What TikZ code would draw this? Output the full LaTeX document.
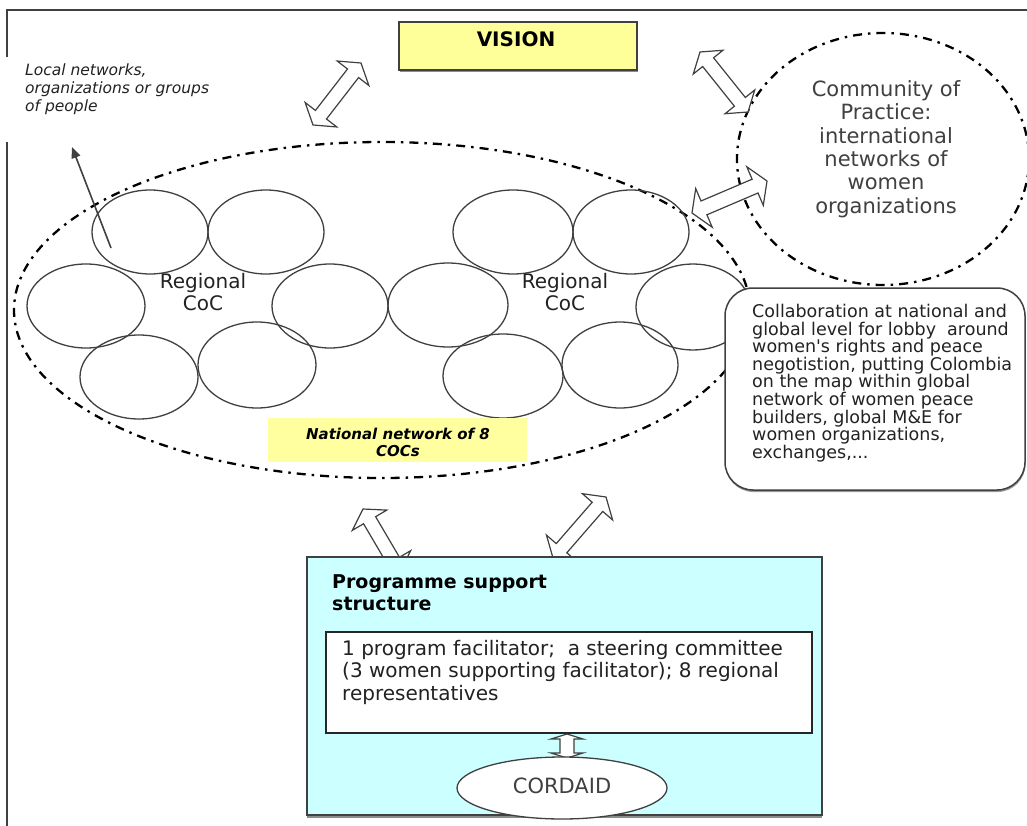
\documentclass[tikz,border=0pt]{standalone}
\usepackage{fontspec}
\setmainfont{DejaVu Sans}
\usetikzlibrary{calc,shapes.geometric,arrows.meta,shadows}
\definecolor{visfill}{HTML}{FFFF99}
\definecolor{natfill}{HTML}{FFFFA0}
\definecolor{psfill}{HTML}{CCFFFF}
\definecolor{edge}{HTML}{404040}
\definecolor{txt}{HTML}{222222}
\newcommand\dblarrow[5]{%
  \coordinate (tmpA) at ($(#1)!#5!(#2)$);
  \coordinate (tmpB) at ($(#2)!#5!(#1)$);
  \draw[blockarr] (#1) -- ($(tmpA)!#4!90:(#2)$) -- ($(tmpA)!#3!90:(#2)$)
    -- ($(tmpB)!#3!-90:(#1)$) -- ($(tmpB)!#4!-90:(#1)$) -- (#2)
    -- ($(tmpB)!#4!90:(#1)$) -- ($(tmpB)!#3!90:(#1)$)
    -- ($(tmpA)!#3!-90:(#2)$) -- ($(tmpA)!#4!-90:(#2)$) -- cycle;}
\begin{document}
\begin{tikzpicture}[x=1pt,y=-1pt,
  frameline/.style={draw=edge,line width=2pt},
  dashdot/.style={draw=black,line width=2.3pt,dash pattern=on 9pt off 6pt on 2.5pt off 6pt},
  circ/.style={ellipse,draw=edge,line width=1.3pt,inner sep=0pt},
  blockarr/.style={draw=edge,fill=white,line width=1.2pt,line join=miter},
  lbl/.style={text=txt,align=center,inner sep=0pt},
]
\useasboundingbox (0,0) rectangle (1027,826);
\fill[white] (0,0) rectangle (1027,826);
% frame
\draw[frameline] (7,826) -- (7,142);
\draw[frameline] (7,57) -- (7,10) -- (1027,10);

% big national network ellipse
\node[ellipse,dashdot,minimum width=736pt,minimum height=336pt,inner sep=0pt] (natnet) at (382,310) {};

% regional circles
\node[circ,minimum width=116pt,minimum height=84pt] (c1) at (150,232) {};
\node[circ,minimum width=116pt,minimum height=84pt] (c2) at (266,232) {};
\node[circ,minimum width=118pt,minimum height=84pt] (c3) at (86,306) {};
\node[circ,minimum width=116pt,minimum height=84pt] (c4) at (330,306) {};
\node[circ,minimum width=118pt,minimum height=84pt] (c5) at (139,377) {};
\node[circ,minimum width=118pt,minimum height=86pt] (c6) at (257,365) {};
\node[circ,minimum width=120pt,minimum height=84pt] (c7) at (448,305) {};
\node[circ,minimum width=120pt,minimum height=84pt] (c8) at (513,232) {};
\node[circ,minimum width=116pt,minimum height=84pt] (c9) at (631,232) {};
\node[circ,minimum width=114pt,minimum height=86pt] (c10) at (693,307) {};
\node[circ,minimum width=120pt,minimum height=84pt] (c11) at (503,376) {};
\node[circ,minimum width=116pt,minimum height=86pt] (c12) at (620,365) {};

\node[lbl,font=\fontsize{20}{22}\selectfont] (reg1) at (203,292) {Regional\\CoC};
\node[lbl,font=\fontsize{20}{22}\selectfont] (reg2) at (565,292) {Regional\\CoC};

% national network label
\node[fill=natfill,minimum width=259pt,minimum height=44pt,inner sep=0pt] (natbox) at (397.5,440) {};
\node[lbl,text=black,font=\fontsize{15}{17}\selectfont\bfseries\itshape] (nattext) at (398,442) {National network of 8\\COCs};

% local networks
\node[text=txt,align=left,anchor=north west,inner sep=0pt,font=\fontsize{15.5}{18}\selectfont\itshape] (local) at (25,64) {Local networks,\\organizations or groups\\of people};
\coordinate (locS) at (111,248);
\coordinate (locE) at (72,147);
\draw[draw=edge,line width=1.6pt,-{Triangle[length=11pt,width=9pt]}] (locS) -- (locE);

% community of practice
\node[ellipse,dashdot,minimum width=292pt,minimum height=252pt,inner sep=0pt] (cop) at (883,159) {};
\node[lbl,text=edge,font=\fontsize{21}{23.4}\selectfont] (coptext) at (886,149) {Community of\\Practice:\\international\\networks of\\women\\organizations};

% double arrows
\coordinate (a1s) at (313,125); \coordinate (a1e) at (361,63);
\dblarrow{a1s}{a1e}{7pt}{20pt}{13pt}
\coordinate (a2s) at (700,52); \coordinate (a2e) at (748,112);
\dblarrow{a2s}{a2e}{7pt}{19pt}{13pt}
\coordinate (a3s) at (692,213); \coordinate (a3e) at (767,181);
\dblarrow{a3s}{a3e}{7.5pt}{21pt}{13pt}
\coordinate (a4s) at (363,509); \coordinate (a4e) at (400,572);
\dblarrow{a4s}{a4e}{7pt}{20pt}{13pt}
\coordinate (a5s) at (553,558); \coordinate (a5e) at (606,497);
\dblarrow{a5s}{a5e}{7pt}{20pt}{13pt}

% callout
\node[draw=edge,fill=white,line width=1.5pt,rounded corners=28pt,minimum width=300pt,minimum height=202pt,inner sep=0pt,
  drop shadow={shadow xshift=0.5pt,shadow yshift=-2pt,fill=gray!80,opacity=1}] (callout) at (875,389) {};
\node[text=txt,align=left,anchor=north west,inner sep=0pt,font=\fontsize{17.5}{17.6}\selectfont] (calltext) at (752,304)
 {Collaboration at national and\\global level for lobby\ \ around\\women\textquotesingle s rights and peace\\negotistion, putting Colombia\\on the map within global\\network of women peace\\builders, global M\&E for\\women organizations,\\exchanges,...};

% vision
\node[fill=visfill,draw=edge,line width=1.3pt,minimum width=238pt,minimum height=48pt,inner sep=0pt,
  drop shadow={shadow xshift=0.5pt,shadow yshift=-2.5pt,fill=gray!90,opacity=1}] (vision) at (518,46) {};
\node[lbl,text=black,font=\fontsize{20}{22}\selectfont\bfseries] (vistext) at (516,39) {VISION};

% programme support structure
\node[fill=psfill,draw=edge,line width=1.3pt,minimum width=515pt,minimum height=258pt,inner sep=0pt,
  drop shadow={shadow xshift=0pt,shadow yshift=-2.5pt,fill=gray!90,opacity=1}] (support) at (564.5,686) {};
\node[text=black,align=left,anchor=north west,inner sep=0pt,font=\fontsize{19}{22}\selectfont\bfseries] (suptitle) at (332,574) {Programme support\\structure};
\node[fill=white,draw=black!85,line width=1.6pt,minimum width=486pt,minimum height=101pt,inner sep=0pt] (inner) at (569,682.5) {};
\node[text=txt,align=left,anchor=north west,inner sep=0pt,font=\fontsize{20}{22.5}\selectfont] (innertext) at (342,640)
 {1 program facilitator;\ \ a steering committee\\(3 women supporting facilitator); 8 regional\\representatives};
\coordinate (a6s) at (567,734); \coordinate (a6e) at (567,758);
\dblarrow{a6s}{a6e}{7pt}{16pt}{5pt}
\node[ellipse,fill=white,draw=edge,line width=1.3pt,minimum width=210pt,minimum height=62pt,inner sep=0pt] (cordaid) at (562,788) {};
\node[lbl,text=edge,font=\fontsize{21}{23}\selectfont] (cordtext) at (562,786) {CORDAID};
\end{tikzpicture}
\end{document}
